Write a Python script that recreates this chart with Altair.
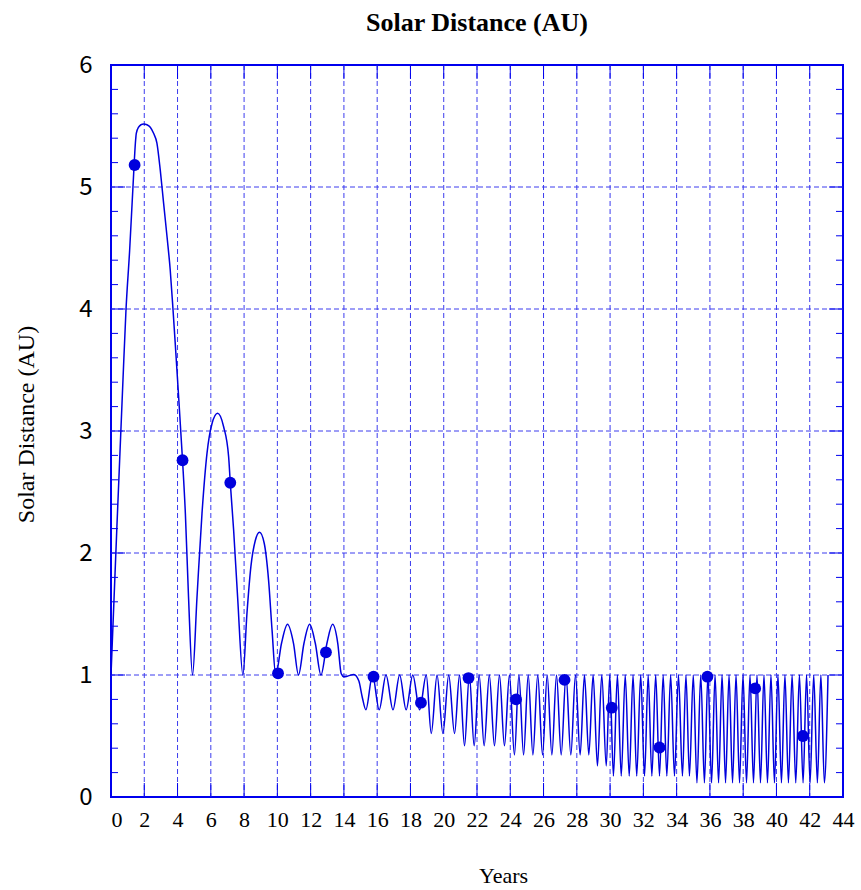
import altair as alt
import pandas as pd

# ---------------- data ----------------
# early large arcs (years, AU)
arc_t = [0.0, 0.35, 0.72, 0.90, 1.12, 1.32, 1.48, 1.52, 1.66, 1.80, 1.96, 2.16, 2.36, 2.56, 2.76,
         2.96, 3.16, 3.37, 3.56, 3.73, 3.86, 4.00, 4.30, 4.47, 4.66, 4.90,
         5.17, 5.47, 5.77, 6.07, 6.41, 6.77, 7.07, 7.17, 7.37, 7.61, 7.93,
         8.17, 8.41, 8.67, 8.93, 9.21, 9.47, 9.68, 9.90,
         10.25, 10.61, 10.97, 11.27, 11.60, 11.94, 12.28, 12.62, 12.98, 13.32, 13.63, 13.84,
         14.0, 14.2, 14.6, 14.9, 15.1]
arc_r = [1.0, 2.2, 3.42, 3.99, 4.48, 5.0, 5.385, 5.44, 5.49, 5.51, 5.516, 5.51, 5.49, 5.44, 5.36,
         5.14, 4.87, 4.59, 4.32, 3.99, 3.72, 3.42, 2.76, 2.325, 1.64, 1.0,
         1.64, 2.325, 2.817, 3.06, 3.145, 3.035, 2.79, 2.576, 2.19, 1.64, 1.0,
         1.5, 1.89, 2.1, 2.17, 2.08, 1.78, 1.37, 1.0,
         1.26, 1.415, 1.26, 1.0, 1.26, 1.415, 1.26, 1.0, 1.26, 1.415, 1.26, 1.01,
         0.985, 0.99, 1.005, 0.95, 0.82]

# later dense oscillations: alternating perihelion troughs and ~1 AU peaks
osc_t = [15.32, 15.72, 16.12, 16.53, 16.95, 17.35, 17.74, 18.14, 18.55, 18.95,
         19.25, 19.6, 19.95, 20.3, 20.65, 20.95,
         21.25, 21.54, 21.83, 22.13, 22.43, 22.74, 23.05, 23.35, 23.65, 23.95,
         24.25, 24.52, 24.80, 25.08, 25.36, 25.65, 25.94, 26.22, 26.5, 26.78,
         27.06, 27.35, 27.64, 27.92, 28.2, 28.46, 28.72, 28.98,
         29.24, 29.5, 29.77, 29.98,
         30.2, 30.44, 30.67, 30.91, 31.15, 31.38, 31.6, 31.84, 32.07, 32.29,
         32.51, 32.74, 32.97, 33.19, 33.41, 33.64, 33.87, 34.11, 34.35, 34.56,
         34.77, 35.0,
         35.22, 35.45, 35.67, 35.88, 36.1, 36.31, 36.52, 36.73, 36.94, 37.15,
         37.36, 37.57, 37.78, 37.99, 38.2, 38.41, 38.62, 38.83, 39.04, 39.25,
         39.46, 39.67, 39.88, 40.09, 40.3, 40.51, 40.72, 40.94, 41.16, 41.38,
         41.6, 41.81, 42.02, 42.24, 42.46, 42.67, 42.88, 43.1]
osc_r = [0.715, 1.0, 0.715, 1.0, 0.715, 1.0, 0.715, 1.0, 0.715, 1.0,
         0.52, 1.0, 0.52, 1.0, 0.52, 1.0,
         0.42, 1.0, 0.42, 1.0, 0.42, 1.0, 0.42, 1.0, 0.42, 1.0,
         0.345, 1.0, 0.345, 1.0, 0.345, 1.0, 0.345, 1.0, 0.345, 1.0,
         0.345, 1.0, 0.345, 1.0, 0.345, 1.0, 0.345, 1.0,
         0.255, 1.0, 0.255, 1.0,
         0.172, 1.0, 0.172, 1.0, 0.172, 1.0, 0.172, 1.0, 0.172, 1.0,
         0.172, 1.0, 0.172, 1.0, 0.172, 1.0, 0.172, 1.0, 0.172, 1.0,
         0.172, 1.0,
         0.117, 1.0, 0.117, 1.0, 0.117, 1.0, 0.117, 1.0, 0.117, 1.0,
         0.117, 1.0, 0.117, 1.0, 0.117, 1.0, 0.117, 1.0, 0.117, 1.0,
         0.117, 1.0, 0.117, 1.0, 0.117, 1.0, 0.117, 1.0, 0.117, 1.0,
         0.117, 1.0, 0.117, 1.0, 0.117, 1.0, 0.117, 1.0]

# dots
dot_t = [1.42, 4.30, 7.17, 10.04, 12.92, 15.78, 18.63, 21.49, 24.35, 27.26, 30.1, 32.97, 35.85, 38.72, 41.59]
dot_r = [5.18, 2.76, 2.576, 1.014, 1.186, 0.986, 0.773, 0.975, 0.80, 0.96, 0.732, 0.406, 0.986, 0.89, 0.50]

# axis ticks
x_ticks = [0, 2, 4, 6, 8, 10, 12, 14, 16, 18, 20, 22, 24, 26, 28, 30, 32, 34, 36, 38, 40, 42, 44]
y_ticks = [0, 1, 2, 3, 4, 5, 6]
y_minor = [0.2, 0.4, 0.6, 0.8, 1.2, 1.4, 1.6, 1.8, 2.2, 2.4, 2.6, 2.8, 3.2, 3.4, 3.6, 3.8,
           4.2, 4.4, 4.6, 4.8, 5.2, 5.4, 5.6, 5.8]
y_major_inner = [1, 2, 3, 4, 5]
x_major_inner = [2, 4, 6, 8, 10, 12, 14, 16, 18, 20, 22, 24, 26, 28, 30, 32, 34, 36, 38, 40, 42]

# ---------------- chart ----------------
W, H = 732, 732
BLUE = "#0000dd"
FRAME = "#0000ee"
GRID = "#3c3cee"

line_df = pd.DataFrame({"t": arc_t + osc_t, "r": arc_r + osc_r})
dot_df = pd.DataFrame({"t": dot_t, "r": dot_r})

xscale = alt.Scale(domain=[0, 44], nice=False, zero=False)
yscale = alt.Scale(domain=[0, 6], nice=False, zero=False)

x_axis = alt.Axis(
    values=x_ticks, grid=False,
    ticks=False, domain=False,
    labelFont="Liberation Serif", labelFontSize=22, labelColor="black",
    labelPadding=12,
    labelAlign=alt.condition("datum.value == 0", alt.value("left"), alt.value("center")),
    title="Years", titleFont="Liberation Serif", titleFontSize=22, titleFontWeight="normal",
    titleColor="black", titleX=392, titleY=85, titleBaseline="alphabetic", titleAlign="center",
)
y_axis = alt.Axis(
    values=y_ticks, grid=False,
    ticks=False, domain=False,
    labelFont="Noto Sans CJK JP", labelFontSize=24, labelColor="black", labelPadding=19,
    title="Solar Distance (AU)", titleFont="Liberation Serif", titleFontSize=24,
    titleFontWeight="normal", titleColor="black", titleAngle=-90,
    titleX=-78, titleY=359, titleBaseline="alphabetic", titleAlign="center",
)

ym_df = pd.DataFrame({"v": y_minor})
yM_df = pd.DataFrame({"v": y_major_inner})
xM_df = pd.DataFrame({"v": x_major_inner})

# dashed grid lines
hgrid = alt.Chart(yM_df).mark_rule(color=GRID, strokeWidth=1, strokeDash=[5, 3]).encode(
    y=alt.Y("v:Q", scale=yscale, axis=y_axis)
)
vgrid = alt.Chart(xM_df).mark_rule(color=GRID, strokeWidth=1, strokeDash=[5, 3]).encode(
    x=alt.X("v:Q", scale=xscale, axis=x_axis)
)

line = alt.Chart(line_df).mark_line(color=BLUE, strokeWidth=1.5, interpolate="monotone").encode(
    x=alt.X("t:Q", scale=xscale, axis=x_axis),
    y=alt.Y("r:Q", scale=yscale, axis=y_axis),
)

dots = alt.Chart(dot_df).mark_circle(color=BLUE, opacity=1, size=140).encode(
    x=alt.X("t:Q", scale=xscale, axis=x_axis),
    y=alt.Y("r:Q", scale=yscale, axis=y_axis),
)


def yrule(df, x0, x1):
    return alt.Chart(df).mark_rule(color=FRAME, strokeWidth=1).encode(
        y=alt.Y("v:Q", scale=yscale, axis=y_axis), x=alt.value(x0), x2=alt.value(x1)
    )


def xrule(df, y0, y1):
    return alt.Chart(df).mark_rule(color=FRAME, strokeWidth=1).encode(
        x=alt.X("v:Q", scale=xscale, axis=x_axis), y=alt.value(y0), y2=alt.value(y1)
    )


ticks = [
    yrule(ym_df, 0, 7), yrule(ym_df, W - 7, W),
    yrule(yM_df, 0, 14), yrule(yM_df, W - 14, W),
    xrule(xM_df, H - 14, H), xrule(xM_df, 0, 14),
]

chart = alt.layer(hgrid, vgrid, line, *ticks, dots).properties(
    width=W, height=H,
    title=alt.TitleParams(
        "Solar Distance (AU)", font="Liberation Serif", fontSize=26, fontWeight="bold",
        color="black", anchor="middle", frame="group", offset=10, dy=14, baseline="alphabetic",
    ),
    autosize=alt.AutoSizeParams(type="none"),
    padding={"left": 111, "top": 65, "right": 18, "bottom": 93},
    background="white",
).configure_view(stroke=FRAME, strokeWidth=2)

chart.save("out.html", embed_options={"renderer": "svg", "actions": False})
